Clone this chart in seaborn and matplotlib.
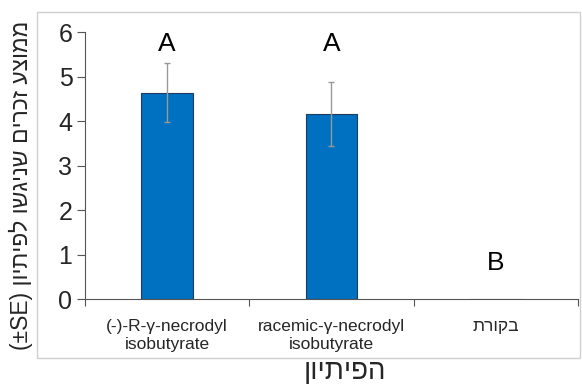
import matplotlib
matplotlib.use("Agg")
import matplotlib.pyplot as plt
import seaborn as sns
import pandas as pd
from matplotlib.patches import Rectangle

categories = ["(-)-R-γ-necrodyl\nisobutyrate", "racemic-γ-necrodyl\nisobutyrate", "בקורת"]
means = [4.64, 4.17, 0.0]
se = [0.67, 0.72, 0.0]
letters = ["A", "A", "B"]
letter_y = [5.73, 5.73, 0.82]

ylabel_he = "ממוצע זכרים שניגשו לפיתיון"
xlabel_he = "הפיתיון"

def vis(s):
    # simple visual reordering for pure Hebrew text (matplotlib has no bidi)
    return s[::-1]

sns.set_style("white")
plt.rcParams['font.family'] = ['Liberation Sans', 'DejaVu Sans']

disp_cats = [c if not any('\u0590' <= ch <= '\u05FF' for ch in c) else vis(c) for c in categories]
df = pd.DataFrame({"cat": disp_cats, "mean": means})

fig = plt.figure(figsize=(5.82, 3.87), dpi=100)
ax = fig.add_axes([0.146, 0.227, 0.847, 0.690])

sns.barplot(data=df, x="cat", y="mean", ax=ax, color="#0070C0", width=0.315,
            edgecolor="#1f3a5a", linewidth=0.8, saturation=1)
xs = range(len(categories))
ax.errorbar(list(xs)[:2], means[:2], yerr=se[:2], fmt="none", ecolor="#999999",
            elinewidth=1.0, capsize=2, capthick=1.0)

for x, l, y in zip(xs, letters, letter_y):
    ax.text(x, y, l, ha="center", va="center", fontsize=19, color="black")

ax.set_ylim(0, 6)
ax.set_xlim(-0.5, 2.5)
ax.set_yticks(range(0, 7))
ax.tick_params(axis="y", labelsize=18, length=6, width=0.8, color="#555555", left=True, pad=3)
ax.tick_params(axis="x", which="major", length=0, labelsize=12.5, pad=14)
for t in ax.get_xticklabels():
    t.set_linespacing(1.25)
ax.set_xticks([-0.5, 0.5, 1.5, 2.5], minor=True)
ax.tick_params(axis="x", which="minor", length=5, width=0.8, color="#555555", bottom=True)
ax.set_xlabel("")
ax.set_ylabel("")
for s in ["top", "right"]:
    ax.spines[s].set_visible(False)
for s in ["left", "bottom"]:
    ax.spines[s].set_color("#555555")
    ax.spines[s].set_linewidth(0.8)

fig.patches.append(Rectangle((0.064, 0.075), 0.933, 0.894, transform=fig.transFigure,
                             fill=False, edgecolor="#d0d0d0", linewidth=1.0))

fig.text(0.593, 0.040, vis(xlabel_he), ha="center", va="center", fontsize=20)
fig.text(0.036, 0.52, "(±SE) " + vis(ylabel_he), ha="center", va="center",
         rotation=90, fontsize=16.5)

fig.savefig("out.png", dpi=100)
